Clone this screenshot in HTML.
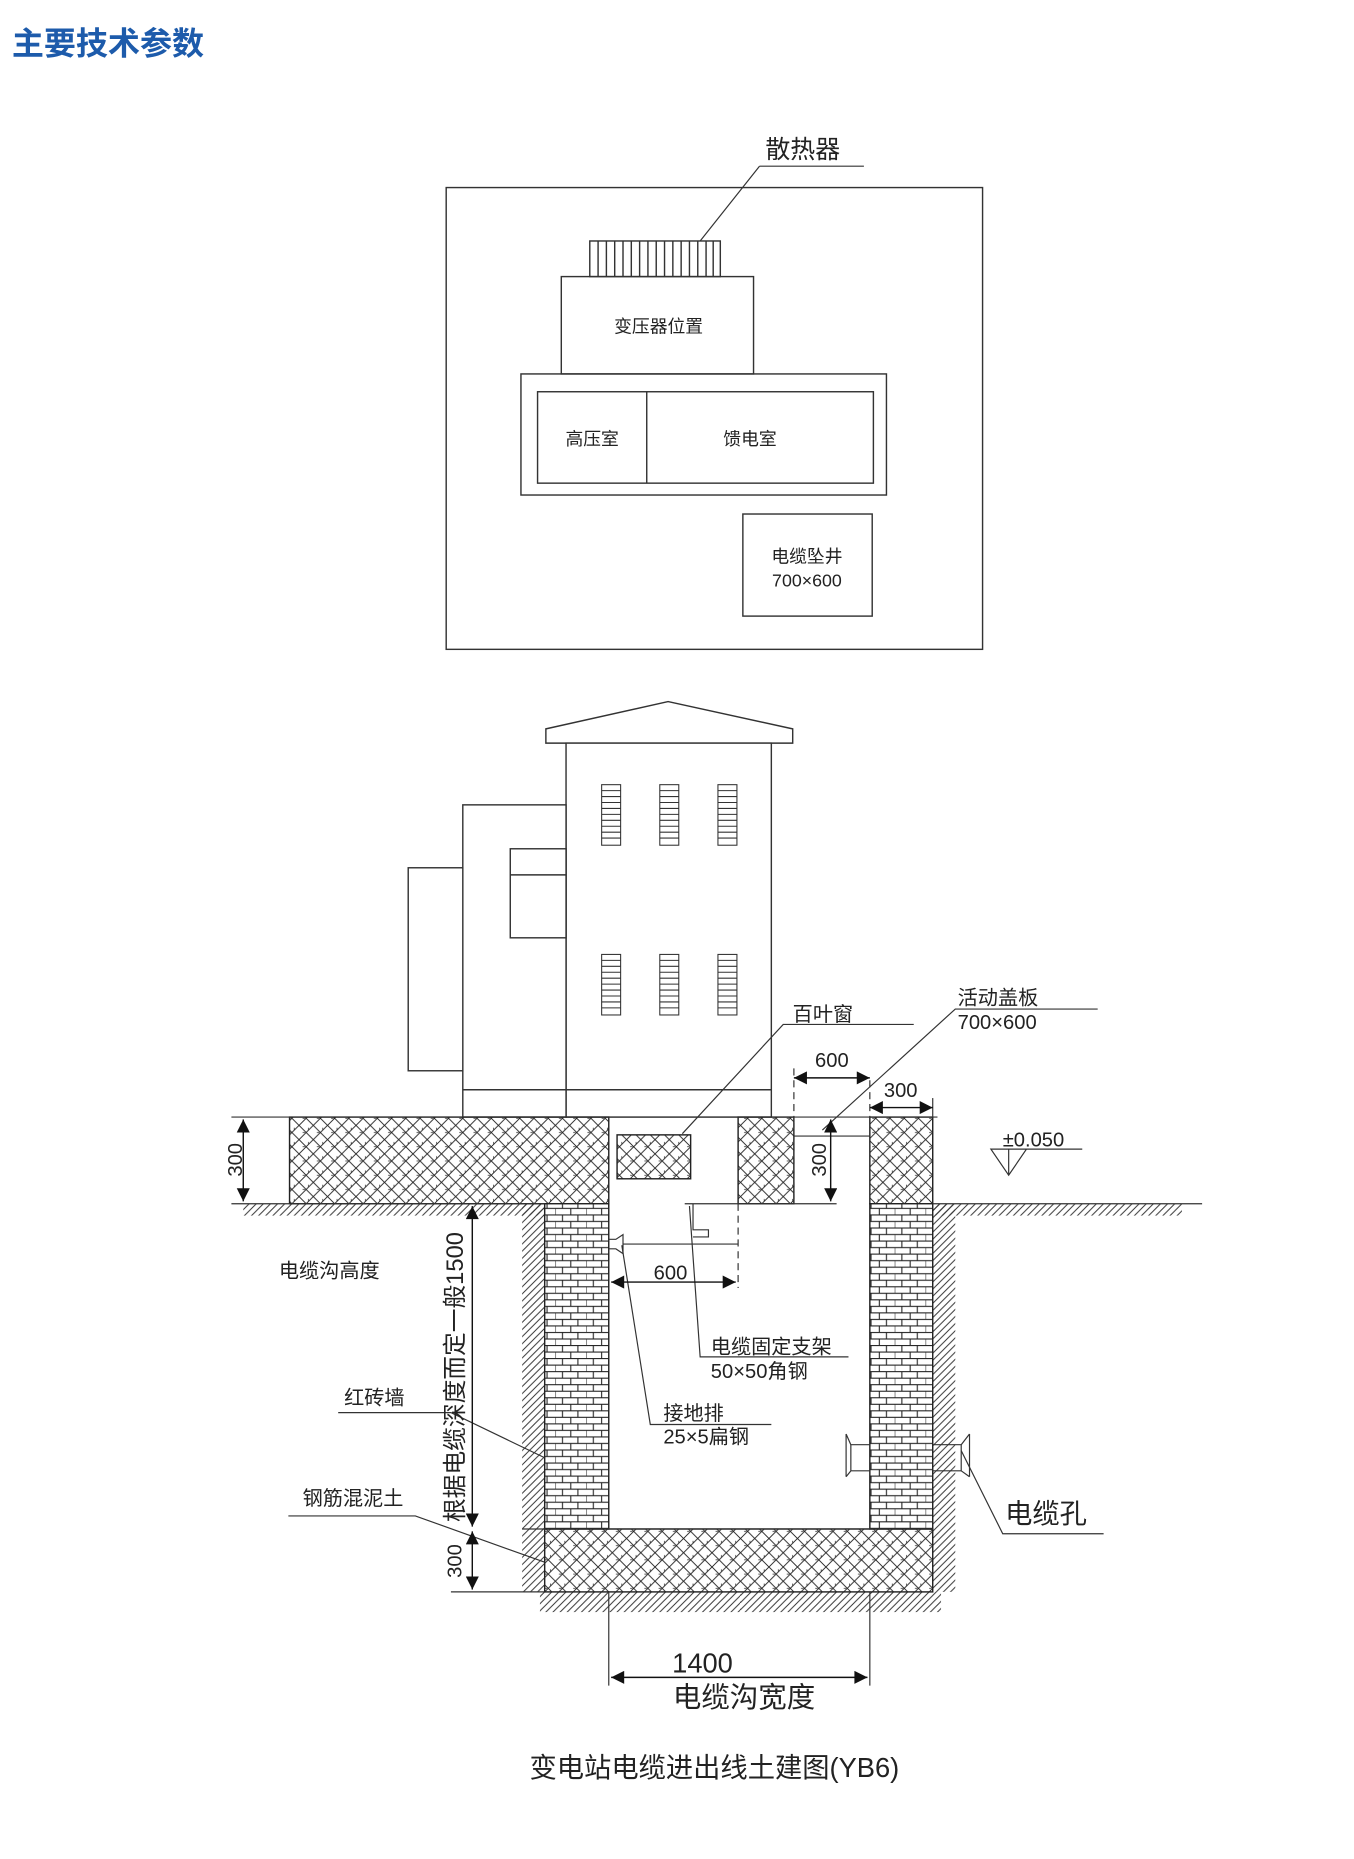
<!DOCTYPE html>
<html><head><meta charset="utf-8"><style>
html,body{margin:0;padding:0;background:#fff;}
svg{display:block;}
text{font-family:"Liberation Sans","Noto Sans CJK SC",sans-serif;fill:#222;}
</style></head><body>
<svg width="1354" height="1859" viewBox="0 0 1141 1566" preserveAspectRatio="none" xmlns="http://www.w3.org/2000/svg">
<defs>
<pattern id="cross" width="12" height="12" patternUnits="userSpaceOnUse">
<path d="M0 0L12 12M12 0L0 12M-1 1L1 -1M11 13L13 11M-1 11L1 13M11 -1L13 1" stroke="#222" stroke-width="0.8" fill="none"/>
<path d="M3 6h2M8 2v2" stroke="#222" stroke-width="0.6"/>
</pattern>
<pattern id="brick" width="26" height="11" patternUnits="userSpaceOnUse">
<rect width="26" height="11" fill="#fff"/>
<path d="M0 0.5H26M0 6H26M6 0.5V6M19 0.5V6M0 6V11M13 6V11" stroke="#222" stroke-width="0.9" fill="none"/>
</pattern>
<pattern id="hatch" width="6" height="6" patternUnits="userSpaceOnUse">
<path d="M-1 7L7 -1M-1 1L1 -1M5 7L7 5" stroke="#333" stroke-width="0.8"/>
</pattern>
<marker id="ar" viewBox="0 0 10 10" refX="10" refY="5" markerWidth="12" markerHeight="11" orient="auto-start-reverse" markerUnits="userSpaceOnUse"><path d="M0 0L10 5L0 10Z" fill="#111"/></marker>
</defs>

<text x="10" y="46" style="font-family:'Liberation Sans','Noto Sans CJK SC',sans-serif;font-weight:bold;font-size:27px;fill:#1d5bab">主要技术参数</text>

<g stroke="#333" stroke-width="1.2" fill="none">
<rect x="376" y="158" width="452" height="389"/>
<rect x="497" y="203" width="110" height="30"/>
<path d="M504 203v30M511 203v30M518 203v30M525 203v30M532 203v30M539 203v30M546 203v30M553 203v30M560 203v30M567 203v30M574 203v30M581 203v30M588 203v30M595 203v30M601 203v30"/>
<rect x="473" y="233" width="162" height="82"/>
<rect x="439" y="315" width="308" height="102"/>
<rect x="453" y="330" width="283" height="77"/>
<path d="M545 330v77"/>
<rect x="626" y="433" width="109" height="86"/>
<path d="M640 140H728M640 140L590 203" stroke-width="1"/>
</g>
<text x="645" y="133" font-size="21">散热器</text>
<text x="555" y="280" font-size="15" text-anchor="middle">变压器位置</text>
<text x="499" y="375" font-size="15" text-anchor="middle">高压室</text>
<text x="632" y="375" font-size="15" text-anchor="middle">馈电室</text>
<text x="680" y="474" font-size="15" text-anchor="middle">电缆坠井</text>
<text x="680" y="494" font-size="15" text-anchor="middle">700×600</text>

<g stroke="#333" stroke-width="1.2" fill="#fff">
<path d="M460 614L563 591L668 614V626H460Z"/>
<rect x="477" y="626" width="173" height="315"/>
<rect x="390" y="678" width="87" height="263"/>
<rect x="344" y="731" width="46" height="171"/>
<rect x="430" y="715" width="47" height="75"/>
<path d="M430 737H477M390 918H650" fill="none"/>
</g>
<g id="lv" stroke="#333" stroke-width="0.9" fill="none">
<rect x="507" y="661" width="16" height="51"/>
<path d="M507 666h16M507 671h16M507 676h16M507 681h16M507 686h16M507 691h16M507 696h16M507 701h16M507 706h16"/>
</g>
<use href="#lv" x="49"/><use href="#lv" x="98"/>
<use href="#lv" y="143"/><use href="#lv" x="49" y="143"/><use href="#lv" x="98" y="143"/>

<g stroke="none">
<rect x="205" y="1014" width="254" height="10" fill="url(#hatch)"/>
<rect x="786" y="1014" width="210" height="10" fill="url(#hatch)"/>
<rect x="440" y="1014" width="19" height="327" fill="url(#hatch)"/>
<rect x="786" y="1014" width="19" height="327" fill="url(#hatch)"/>
<rect x="455" y="1341" width="338" height="17" fill="url(#hatch)"/>
</g>

<g stroke="#222" stroke-width="1.2">
<rect x="244" y="941" width="269" height="73" fill="url(#cross)"/>
<rect x="622" y="941" width="47" height="73" fill="url(#cross)"/>
<rect x="733" y="941" width="53" height="73" fill="url(#cross)"/>
<rect x="520" y="956" width="62" height="37" fill="url(#cross)"/>
<rect x="459" y="1014" width="54" height="274" fill="url(#brick)"/>
<rect x="733" y="1014" width="53" height="274" fill="url(#brick)"/>
<rect x="459" y="1288" width="327" height="53" fill="url(#cross)"/>
</g>

<g stroke="#333" stroke-width="1" fill="none">
<path d="M195 1014H459M786 1014H1013M577 1014H705"/>
<path d="M195 941H790M669 957H733"/>
<path d="M440 1288H786M380 1341H459"/>
<path d="M669 900V1014M733 910V941M622 1014V1085" stroke-dasharray="6 4"/>
<path d="M786 925V941"/>
<path d="M584 1014V1036H597V1042H584"/>
<path d="M525 1048H622"/>
<path d="M513 1044H519L525 1040V1056L519 1052H513"/>
<path d="M717 1217H733M717 1239H733M717 1217V1239M713 1208L717 1217M713 1244L717 1239M713 1208V1244"/>
<path d="M786 1217H810M786 1239H810M810 1217V1239M817 1208L810 1217M817 1244L810 1239M817 1208V1244"/>
<path d="M575 955L660 863H770"/>
<path d="M693 952L805 850H925"/>
<path d="M524 1049L548 1200H650"/>
<path d="M581 1016L590 1143H715"/>
<path d="M285 1190H380L459 1228"/>
<path d="M243 1277H350L459 1316"/>
<path d="M810 1222L845 1292H930"/>
<path d="M835 968H912M835 968L865 968L850 990Z M850 968V990"/>
<path d="M513 1341V1420M733 1341V1420"/>
</g>

<g stroke="#111" stroke-width="1.2" fill="none" marker-start="url(#ar)" marker-end="url(#ar)">
<path d="M669 908H733"/>
<path d="M733 933H786"/>
<path d="M700 943V1012"/>
<path d="M205 943V1012"/>
<path d="M398 1016V1286"/>
<path d="M398 1290V1339"/>
<path d="M515 1080H620"/>
<path d="M515 1413H731"/>
</g>

<g font-size="17">
<text x="668" y="860">百叶窗</text>
<text x="807" y="846">活动盖板</text>
<text x="807" y="867">700×600</text>
<text x="701" y="899" text-anchor="middle">600</text>
<text x="759" y="924" text-anchor="middle">300</text>
<text x="845" y="966">±0.050</text>
<text x="565" y="1078" text-anchor="middle">600</text>
<text x="599" y="1140">电缆固定支架</text>
<text x="599" y="1161">50×50角钢</text>
<text x="559" y="1196">接地排</text>
<text x="559" y="1216">25×5扁钢</text>
<text x="235" y="1076">电缆沟高度</text>
<text x="290" y="1183">红砖墙</text>
<text x="255" y="1268">钢筋混泥土</text>
<text transform="translate(204,977) rotate(-90)" text-anchor="middle">300</text>
<text transform="translate(696,977) rotate(-90)" text-anchor="middle">300</text>
<text transform="translate(389,1315) rotate(-90)" text-anchor="middle">300</text>
<text transform="translate(390,1160) rotate(-90)" text-anchor="middle" font-size="20">根据电缆深度而定一般1500</text>
</g>
<text x="847" y="1283" font-size="23">电缆孔</text>
<text x="592" y="1409" font-size="23" text-anchor="middle">1400</text>
<text x="627" y="1438" font-size="24" text-anchor="middle">电缆沟宽度</text>
<text x="602" y="1497" font-size="23" text-anchor="middle">变电站电缆进出线土建图(YB6)</text>
</svg>
</body></html>
